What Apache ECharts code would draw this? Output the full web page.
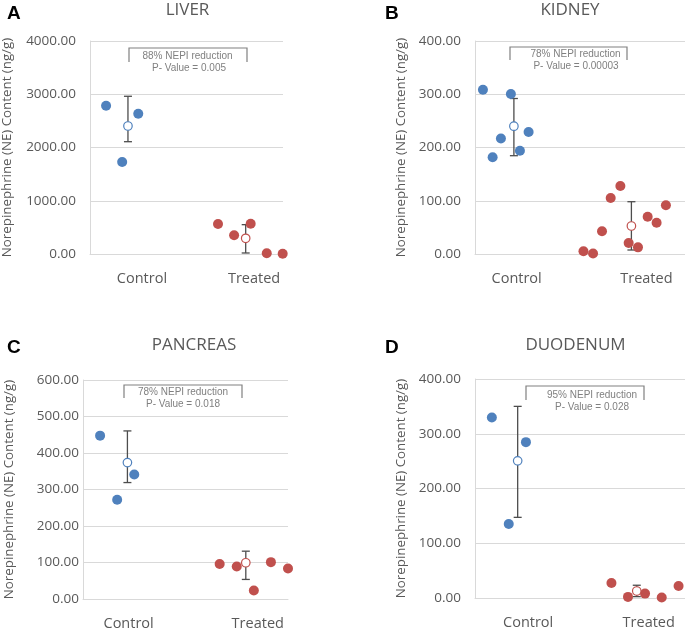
<!DOCTYPE html>
<html>
<head>
<meta charset="utf-8">
<script src="https://cdn.jsdelivr.net/npm/echarts@6/dist/echarts.min.js"></script>
<style>
html,body{margin:0;padding:0;background:#fff;}
#c{width:685px;height:631px;}
</style>
</head>
<body>
<div id="c"></div>
<script>
// ---------- DATA ----------
const panelTitles = ['LIVER', 'KIDNEY', 'PANCREAS', 'DUODENUM'];
const panelLetters = ['A', 'B', 'C', 'D'];
const groupNames = ['Control', 'Treated'];
const yAxisTitle = 'Norepinephrine (NE) Content (ng/g)';

// Liver
const liverCtrlX = [1, 2, 3];
const liverCtrlY = [2785, 1728, 2635];
const liverTrtX = [7.96, 8.96, 9.99, 10.99, 11.98];
const liverTrtY = [563, 351, 569, 13, 5];
const liverMeanX = [2.36, 9.68];
const liverMean = [2404, 295];
const liverLow = [2109, 19];
const liverHigh = [2962, 551];
const liverYMax = 4000, liverYStep = 1000;
const liverNote = ['88% NEPI reduction', 'P- Value = 0.005'];

// Kidney
const kidneyCtrlX = [0.87, 1.93, 2.84, 3.93, 4.92, 5.87];
const kidneyCtrlY = [308.6, 181.6, 217, 300.5, 194, 229];
const kidneyTrtX = [11.88, 12.93, 13.91, 14.86, 15.92, 16.83, 17.85, 18.91, 19.89, 20.91];
const kidneyTrtY = [5, 1, 42.6, 105, 127.7, 20.7, 12.5, 70, 58.8, 91.4];
const kidneyMeanX = [4.26, 17.13];
const kidneyMean = [240, 52.6];
const kidneyLow = [184.6, 7.5];
const kidneyHigh = [292, 98.2];
const kidneyYMax = 400, kidneyYStep = 100;
const kidneyNote = ['78% NEPI reduction', 'P- Value = 0.00003'];

// Pancreas
const pancCtrlX = [1, 2, 3];
const pancCtrlY = [447.6, 271.7, 341];
const pancTrtX = [8, 9, 10, 11, 12];
const pancTrtY = [95.8, 89, 23.5, 101, 83.7];
const pancMeanX = [2.6, 9.53];
const pancMean = [373.7, 99.3];
const pancLow = [319, 53.6];
const pancHigh = [460.5, 131];
const pancYMax = 600, pancYStep = 100;
const pancNote = ['78% NEPI reduction', 'P- Value = 0.018'];

// Duodenum
const duoCtrlX = [1, 2, 3.02];
const duoCtrlY = [329.8, 135, 284.7];
const duoTrtX = [8.09, 9.07, 10.08, 11.07, 12.07];
const duoTrtY = [27.5, 2, 8, 1, 22];
const duoMeanX = [2.53, 9.59];
const duoMean = [250.5, 12.8];
const duoLow = [147.3, 2.5];
const duoHigh = [350, 23.3];
const duoYMax = 400, duoYStep = 100;
const duoNote = ['95% NEPI reduction', 'P- Value = 0.028'];

// x positions of the group labels (axis units)
const labelX = [[3.23, 10.2], [4.56, 18.77], [2.67, 10.23], [3.15, 10.3]];
const xMax = [12, 23, 12, 12.45];

// ---------- LAYOUT / STYLE ----------
const panels = [
  {ctrlX: liverCtrlX, ctrlY: liverCtrlY, trtX: liverTrtX, trtY: liverTrtY, mX: liverMeanX, m: liverMean, lo: liverLow, hi: liverHigh, yMax: liverYMax, yStep: liverYStep, note: liverNote},
  {ctrlX: kidneyCtrlX, ctrlY: kidneyCtrlY, trtX: kidneyTrtX, trtY: kidneyTrtY, mX: kidneyMeanX, m: kidneyMean, lo: kidneyLow, hi: kidneyHigh, yMax: kidneyYMax, yStep: kidneyYStep, note: kidneyNote},
  {ctrlX: pancCtrlX, ctrlY: pancCtrlY, trtX: pancTrtX, trtY: pancTrtY, mX: pancMeanX, m: pancMean, lo: pancLow, hi: pancHigh, yMax: pancYMax, yStep: pancYStep, note: pancNote},
  {ctrlX: duoCtrlX, ctrlY: duoCtrlY, trtX: duoTrtX, trtY: duoTrtY, mX: duoMeanX, m: duoMean, lo: duoLow, hi: duoHigh, yMax: duoYMax, yStep: duoYStep, note: duoNote}
];

const grids = [
  {left: 90, top: 41, width: 193, height: 213},
  {left: 475, top: 41, width: 210, height: 213},
  {left: 83, top: 380, width: 205, height: 219},
  {left: 475, top: 379, width: 210, height: 219}
];
const nameGaps = [76, 67, 67, 67];
const labelMargins = [14, 14, 4, 14];
const titlePos = [[187.5, 2], [570, 2], [194, 337], [575.5, 337]];
const letterPos = [[7, 7], [385, 7], [7, 341], [385, 341]];
const notes = [
  {bx: [129, 247], by: [48, 62], t1: [187.5, 56.5], t2: [189, 68.5]},
  {bx: [510, 627], by: [47, 60], t1: [575.5, 54.5], t2: [576, 66.5]},
  {bx: [124, 242], by: [385, 398], t1: [183, 392.5], t2: [183, 404.5]},
  {bx: [526, 644], by: [386, 400], t1: [592, 395], t2: [592, 407.5]}
];

const BLUE = '#4f81bd', RED = '#c0504d', GRID = '#d9d9d9', TXT = '#595959';
const FONT = 'Open Sans';

const zip = (xs, ys) => xs.map((x, i) => [x, ys[i]]);

const option = {
  backgroundColor: '#fff',
  animation: false,
  title: [],
  grid: grids.map(g => Object.assign({containLabel: false}, g)),
  xAxis: [],
  yAxis: [],
  series: [],
  graphic: []
};

panels.forEach((p, i) => {
  option.title.push({
    text: panelTitles[i], left: titlePos[i][0], top: titlePos[i][1], textAlign: 'center', padding: 0,
    textStyle: {fontFamily: FONT, fontSize: 17, fontWeight: 'normal', color: TXT}
  });
  option.title.push({
    text: panelLetters[i], left: letterPos[i][0], top: letterPos[i][1], padding: 0,
    textStyle: {fontFamily: 'Liberation Sans', fontSize: 19, fontWeight: 'bold', color: '#000', lineHeight: 14}
  });
  option.xAxis.push({
    type: 'value', gridIndex: i, min: 0, max: xMax[i],
    axisLine: {show: true, lineStyle: {color: GRID, width: 1}},
    axisTick: {show: false},
    splitLine: {show: false},
    axisLabel: {
      customValues: labelX[i],
      formatter: (v) => (Math.abs(v - labelX[i][0]) < 1e-6 ? groupNames[0] : groupNames[1]),
      fontFamily: FONT, fontSize: 14.5, color: TXT, margin: 17
    }
  });
  option.yAxis.push({
    type: 'value', gridIndex: i, min: 0, max: p.yMax, interval: p.yStep,
    name: yAxisTitle, nameLocation: 'middle', nameGap: nameGaps[i],
    nameTextStyle: {fontFamily: FONT, fontSize: 13.3, color: TXT},
    axisLine: {show: true, lineStyle: {color: GRID, width: 1}},
    axisTick: {show: false},
    splitLine: {show: true, lineStyle: {color: GRID, width: 1}},
    axisLabel: {
      formatter: (v) => v.toFixed(2),
      fontFamily: FONT, fontSize: 13.5, color: TXT, margin: labelMargins[i]
    }
  });
  // error bars
  option.series.push({
    type: 'custom', xAxisIndex: i, yAxisIndex: i, z: 3,
    data: p.mX.map((x, k) => [x, p.lo[k], p.hi[k]]),
    renderItem: (params, api) => {
      const top = api.coord([api.value(0), api.value(2)]);
      const bot = api.coord([api.value(0), api.value(1)]);
      const hw = 4;
      const st = {stroke: '#4d4d4d', lineWidth: 1.3};
      return {type: 'group', children: [
        {type: 'line', shape: {x1: top[0], y1: top[1], x2: bot[0], y2: bot[1]}, style: st},
        {type: 'line', shape: {x1: top[0] - hw, y1: top[1], x2: top[0] + hw, y2: top[1]}, style: st},
        {type: 'line', shape: {x1: bot[0] - hw, y1: bot[1], x2: bot[0] + hw, y2: bot[1]}, style: st}
      ]};
    }
  });
  option.series.push({
    type: 'scatter', xAxisIndex: i, yAxisIndex: i, z: 4, symbolSize: 10,
    data: zip(p.ctrlX, p.ctrlY), itemStyle: {color: BLUE, opacity: 1}
  });
  option.series.push({
    type: 'scatter', xAxisIndex: i, yAxisIndex: i, z: 4, symbolSize: 10,
    data: zip(p.trtX, p.trtY), itemStyle: {color: RED, opacity: 1}
  });
  option.series.push({
    type: 'scatter', xAxisIndex: i, yAxisIndex: i, z: 5, symbolSize: 8.5,
    data: [[p.mX[0], p.m[0]]], itemStyle: {color: '#fff', borderColor: BLUE, borderWidth: 1.2, opacity: 1}
  });
  option.series.push({
    type: 'scatter', xAxisIndex: i, yAxisIndex: i, z: 5, symbolSize: 8.5,
    data: [[p.mX[1], p.m[1]]], itemStyle: {color: '#fff', borderColor: RED, borderWidth: 1.2, opacity: 1}
  });
  const n = notes[i];
  option.graphic.push({
    type: 'polyline', z: 10,
    shape: {points: [[n.bx[0], n.by[1]], [n.bx[0], n.by[0]], [n.bx[1], n.by[0]], [n.bx[1], n.by[1]]]},
    style: {stroke: '#808080', lineWidth: 1.2, fill: null}
  });
  option.graphic.push({
    type: 'text', z: 10, x: n.t1[0], y: n.t1[1],
    style: {text: p.note[0], fill: '#808080', font: '10px "Liberation Sans"', textAlign: 'center', textVerticalAlign: 'middle'}
  });
  option.graphic.push({
    type: 'text', z: 10, x: n.t2[0], y: n.t2[1],
    style: {text: p.note[1], fill: '#808080', font: '10px "Liberation Sans"', textAlign: 'center', textVerticalAlign: 'middle'}
  });
});

const chart = echarts.init(document.getElementById('c'), null, {renderer: 'canvas'});
chart.setOption(option);
</script>
</body>
</html>
